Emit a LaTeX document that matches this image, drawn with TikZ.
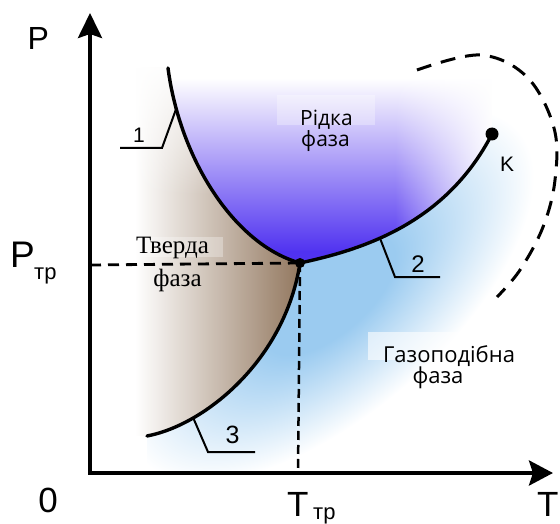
\documentclass[tikz,border=0pt]{standalone}
\usepackage{fontspec}
\setmainfont{Liberation Sans}
\newfontfamily\osans{Open Sans}
\newfontfamily\tserif{Liberation Serif}
\usetikzlibrary{arrows.meta,fadings}
\definecolor{liqA}{RGB}{80,50,240}
\definecolor{solA}{RGB}{150,124,100}
\definecolor{gasA}{RGB}{155,203,240}
\pgfdeclareradialshading{gasshade}{\pgfpointorigin}{color(0bp)=(gasA); color(8bp)=(gasA); color(25bp)=(white); color(50bp)=(white)}
\tikzfading[name=fadeR, left color=transparent!100, right color=transparent!0]
\tikzfading[name=fadeDown, top color=transparent!0, bottom color=transparent!100]
\tikzset{
  curveline/.style={line width=3.4pt, line cap=round},
  leader/.style={line width=2pt},
  guide/.style={line width=2.8pt, dash pattern=on 11pt off 7pt},
  vguide/.style={line width=2.5pt, dash pattern=on 9pt off 5pt},
  critdash/.style={line width=3pt, dash pattern=on 15pt off 10pt},
  axisline/.style={line width=4pt, {Stealth[length=25pt,width=24pt,inset=4pt]}-{Stealth[length=24pt,width=25pt,inset=4pt]}},
  lbl/.style={inner sep=0pt, anchor=base},
  lblw/.style={inner sep=0pt, anchor=base west},
  phasesans/.style={lbl, font=\osans\fontsize{21}{21}\selectfont},
  phaseserif/.style={lbl, font=\tserif\fontsize{25}{25}\selectfont},
  textbg/.style={fill=white, fill opacity=0.3, draw=none}
}
\begin{document}
\begin{tikzpicture}[x=1pt,y=-1pt]
\useasboundingbox (0,0) rectangle (560,524);
\coordinate (O) at (90,473);
\coordinate (TP) at (300,263);
\coordinate (K) at (492,134);
\coordinate (A1) at (168,68);
\coordinate (A3) at (147,436);
\coordinate (Ytip) at (90,13);
\coordinate (Xtip) at (553,473);
\coordinate (PY) at (90,265);
\coordinate (TX) at (298,473);

% liquid region
\begin{scope}
\clip (A1) .. controls (180,160) and (235,245) .. (TP) .. controls (360,250) and (445,225) .. (K) -- (492,40) -- (168,40) -- cycle;
\shade[top color=white, bottom color=liqA] (160,78) rectangle (500,252);
\fill[liqA] (160,251) rectangle (500,270);
\fill[white, path fading=fadeR] (395,40) rectangle (494,270);
\end{scope}
% solid region
\begin{scope}
\clip (A1) .. controls (180,160) and (235,245) .. (TP) .. controls (285,360) and (205,425) .. (A3) -- (93,436) -- (93,68) -- cycle;
\shade[left color=white, right color=solA] (135,60) rectangle (295,470);
\fill[solA] (294,60) rectangle (310,470);
\fill[white, path fading=fadeDown] (93,60) rectangle (310,195);
\end{scope}
% gas region
\begin{scope}
\clip (TP) .. controls (360,250) and (445,225) .. (K) -- (492,100) -- (560,100) -- (560,471) -- (147,471) -- (A3) .. controls (205,425) and (285,360) .. (TP) -- cycle;
\shade[shading=gasshade, transform canvas={rotate around={41:(330,295)}}] (330,295) ellipse (250 and 118);
\end{scope}

% faint text backgrounds
\fill[textbg] (277,95) rectangle (375,125);
\fill[textbg] (130,237) rectangle (223,257);
\fill[textbg, fill opacity=0.6] (368,332) rectangle (520,360);

% dashed guides
\draw[guide] (PY) -- (TP);
\draw[vguide] (TP) -- (TX);

% phase boundary curves
\draw[curveline] (A1) .. controls (180,160) and (235,245) .. (TP) coordinate[pos=0.15] (L1);
\draw[curveline] (TP) .. controls (360,250) and (445,225) .. (K) coordinate[pos=0.4] (L2);
\draw[curveline] (A3) .. controls (205,425) and (285,360) .. (TP) coordinate[pos=0.25] (L3);

% leaders
\coordinate (B1) at (162,148); \coordinate (E1) at (120,148);
\coordinate (B2) at (395,277); \coordinate (E2) at (440,277);
\coordinate (B3) at (208,452); \coordinate (E3) at (255,452);
\draw[leader] (L1) -- (B1) -- (E1);
\draw[leader] (L2) -- (B2) -- (E2);
\draw[leader] (L3) -- (B3) -- (E3);

% critical dashed curve
\draw[critdash] plot[smooth, tension=0.6] coordinates {(417,70) (480,55) (527,77) (554,128) (555,180) (543,227) (520,270) (497,297)};

% dots
\fill (TP) circle (5);
\fill (K) circle (6.5);

% axes
\draw[axisline] (Ytip) -- (O) -- (Xtip);

% labels
\node[lblw, font=\fontsize{32}{32}\selectfont] (Plab) at (27.5,50) {P};
\node[lblw, font=\fontsize{37}{37}\selectfont] (Ptr) at (10,267) {P};
\node[lblw, font=\fontsize{22}{22}\selectfont] (Ptrs) at (34,279) {тр};
\node[lbl, font=\fontsize{35}{35}\selectfont] (zero) at (48,512) {0};
\node[lblw, font=\fontsize{35}{35}\selectfont] (Ttr) at (287,516) {T};
\node[lblw, font=\fontsize{22}{22}\selectfont] (Ttrs) at (313,519) {тр};
\node[lblw, font=\fontsize{35}{35}\selectfont] (Tlab) at (537,516) {T};
\node[lbl, font=\fontsize{21}{21}\selectfont] (n1) at (139,143) {1};
\node[lbl, font=\fontsize{24}{24}\selectfont] (n2) at (418,272) {2};
\node[lbl, font=\fontsize{25}{25}\selectfont] (n3) at (232.5,443) {3};
\node[lbl, font=\fontsize{21}{21}\selectfont] (Klab) at (507,172) {K};
\node[phasesans] (liq1) at (326.5,126) {Рідка};
\node[phasesans] (liq2) at (325.5,147) {фаза};
\node[phaseserif] (sol1) at (172.5,253) {Тверда};
\node[phaseserif] (sol2) at (177.5,286) {фаза};
\node[phasesans, font=\osans\fontsize{22}{22}\selectfont] (gas1) at (449,362) {Газоподібна};
\node[phasesans, font=\osans\fontsize{22}{22}\selectfont] (gas2) at (438,383) {фаза};
\end{tikzpicture}
\end{document}
